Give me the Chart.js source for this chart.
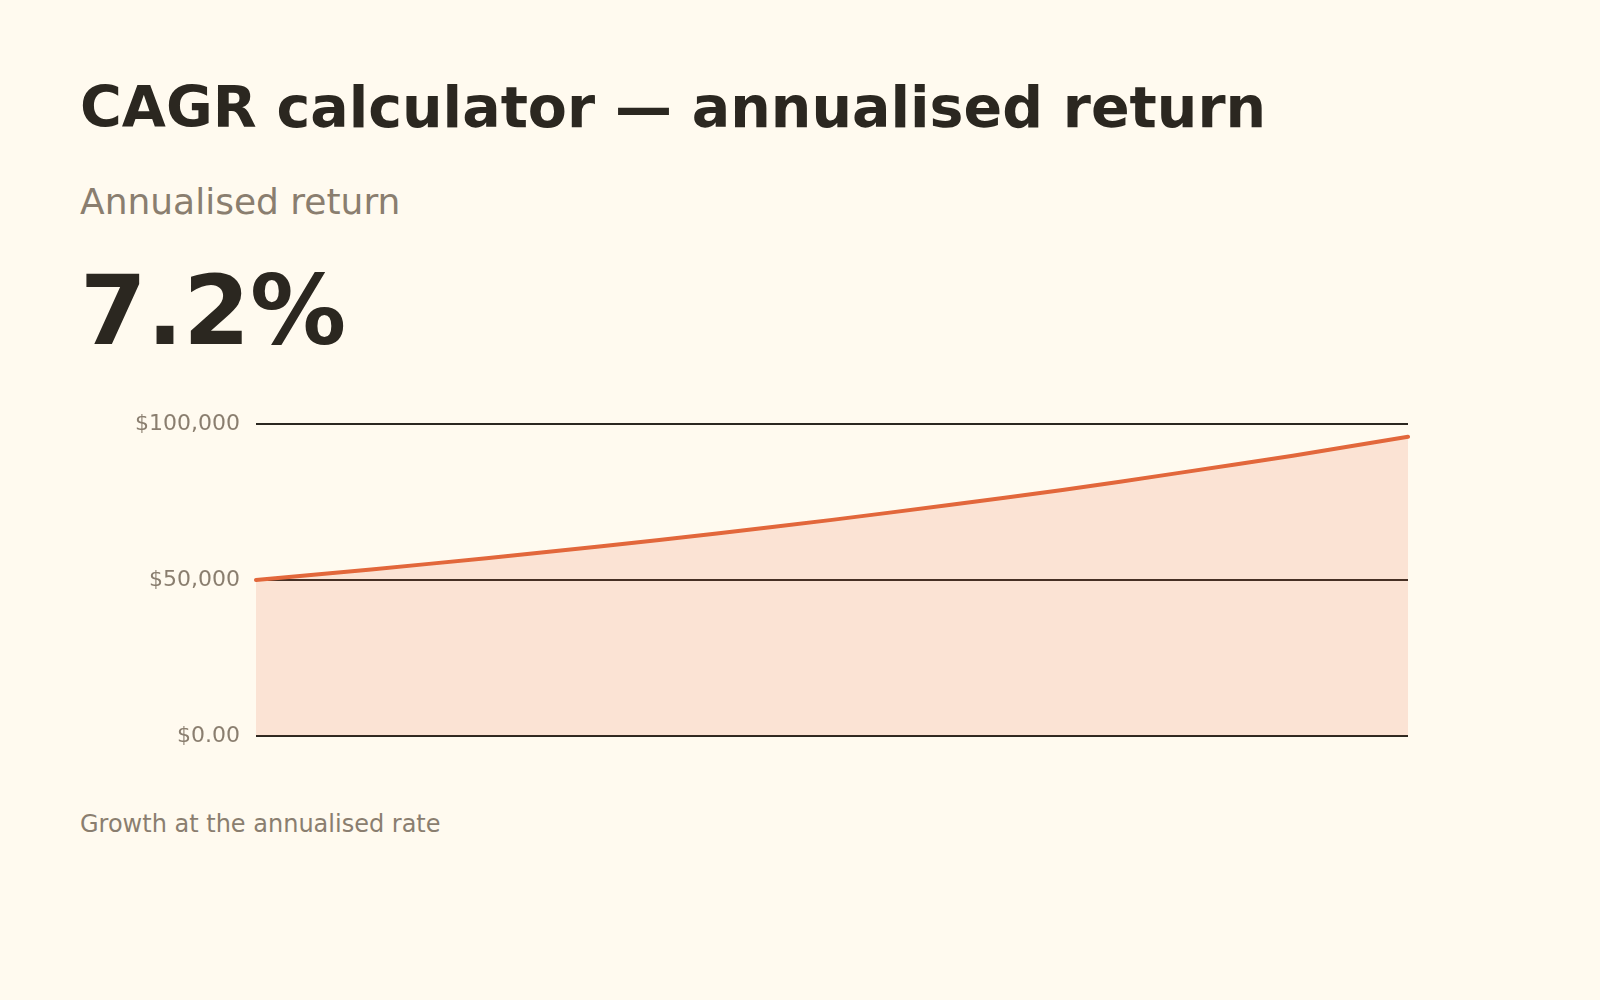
<!DOCTYPE html>
<html>
<head>
<meta charset="utf-8">
<script src="https://cdn.jsdelivr.net/npm/chart.js@4.4.1/dist/chart.umd.min.js"></script>
<style>
    html, body { margin: 0; padding: 0; }
    body { width: 1600px; height: 1000px; background: #fffaef; position: relative; overflow: hidden; font-family: 'DejaVu Sans', sans-serif; }
    .txt { position: absolute; left: 80px; line-height: 1; white-space: nowrap; }
    .title { top: 79px; font-size: 57px; font-weight: bold; color: #2b2720; }
    .label { top: 184px; font-size: 36px; color: #8a7e6f; }
    .value { top: 263px; font-size: 96px; font-weight: bold; color: #2b2720; }
    .note { top: 812px; font-size: 24px; color: #8a7e6f; }
    .chart-box { position: absolute; left: 0; top: 395px; width: 1600px; height: 370px; }
</style>
</head>
<body>
<div class="txt title">CAGR calculator — annualised return</div>
<div class="txt label">Annualised return</div>
<div class="txt value">7.2%</div>
<div class="chart-box"><canvas id="growthChart"></canvas></div>
<div class="txt note">Growth at the annualised rate</div>

<script>
const years = ['Year 0', 'Year 1', 'Year 2', 'Year 3', 'Year 4', 'Year 5', 'Year 6', 'Year 7', 'Year 8', 'Year 9', 'Year 10'];
const balance = [50000, 53400, 57000, 60800, 64900, 69300, 74000, 78900, 84300, 89900, 96000];
const yTicks = [0, 50000, 100000];
const yTickLabels = ['$0.00', '$50,000', '$100,000'];

const ink = '#2b2720';
const muted = '#8a7e6f';
const accent = '#e2673b';

function initGrowthChart() {
    const canvas = document.getElementById('growthChart');
    if (!canvas || !window.Chart) return;

    new Chart(canvas, {
        type: 'line',
        data: {
            labels: years,
            datasets: [{
                data: balance,
                borderColor: accent,
                backgroundColor: 'rgba(226, 103, 59, .15)',
                borderWidth: 4,
                borderCapStyle: 'round',
                tension: .3,
                pointRadius: 0,
                fill: 'origin',
            }],
        },
        options: {
            responsive: true,
            maintainAspectRatio: false,
            animation: false,
            layout: { padding: { top: 18, bottom: 16, right: 192, left: 0 } },
            plugins: { legend: { display: false }, tooltip: { enabled: false } },
            scales: {
                x: { display: false, offset: false },
                y: {
                    min: 0,
                    max: 100000,
                    afterFit: (scale) => { scale.width = 256; },
                    afterBuildTicks: (scale) => { scale.ticks = yTicks.map((v) => ({ value: v })); },
                    border: { display: false },
                    grid: { color: ink, lineWidth: 2, drawTicks: false },
                    ticks: {
                        color: muted,
                        padding: 16,
                        font: { family: 'DejaVu Sans', size: 22 },
                        callback: (value) => yTickLabels[yTicks.indexOf(value)],
                    },
                },
            },
        },
    });
}

document.addEventListener('DOMContentLoaded', initGrowthChart);
</script>
</body>
</html>
